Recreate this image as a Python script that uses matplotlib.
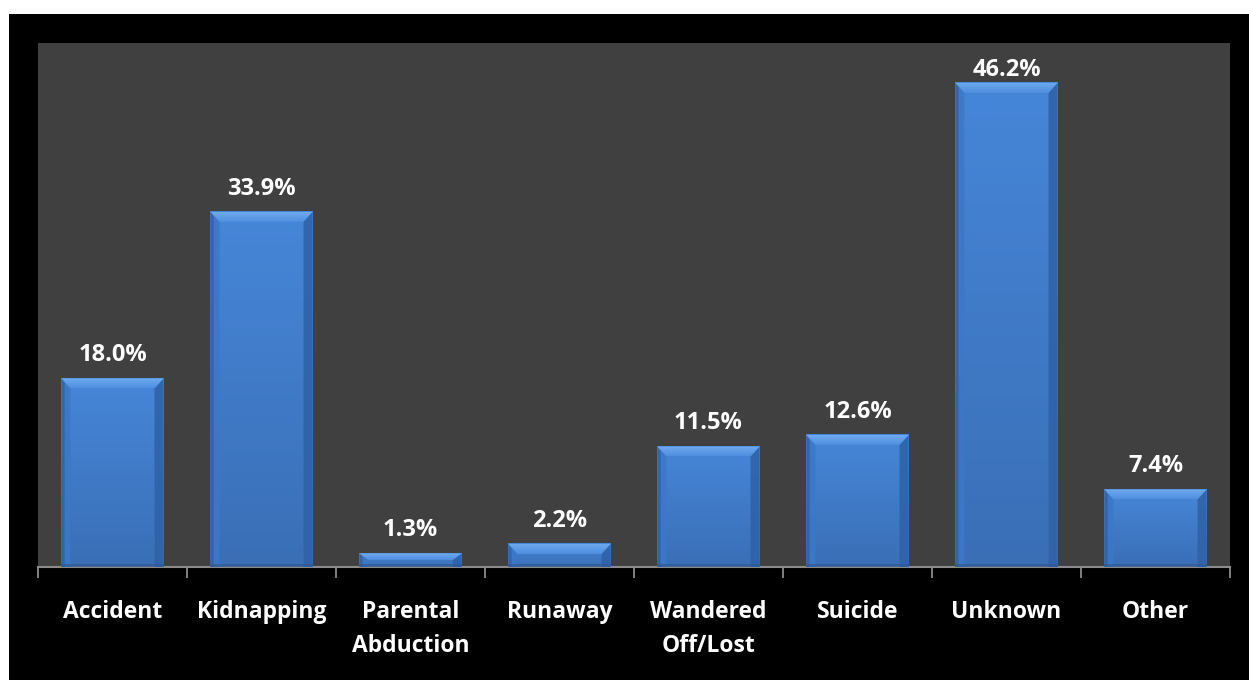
import matplotlib
matplotlib.use("Agg")
import matplotlib.pyplot as plt
from matplotlib.patches import Rectangle, Polygon
from matplotlib.colors import LinearSegmentedColormap
import numpy as np

categories = ["Accident", "Kidnapping", "Parental\nAbduction", "Runaway",
              "Wandered\nOff/Lost", "Suicide", "Unknown", "Other"]
values = [18.0, 33.9, 1.3, 2.2, 11.5, 12.6, 46.2, 7.4]
labels = ["18.0%", "33.9%", "1.3%", "2.2%", "11.5%", "12.6%", "46.2%", "7.4%"]

W, H = 1249, 680
fig = plt.figure(figsize=(W / 100, H / 100), dpi=100)
fig.patch.set_facecolor("white")
fig.patches.append(Rectangle((9 / W, 0), 1 - 9 / W, 1 - 14 / H,
                             transform=fig.transFigure, facecolor="black",
                             edgecolor="none", zorder=-10))

ax = fig.add_axes([38 / W, 1 - 567 / H, (1230 - 38) / W, (567 - 43) / H])
ax.set_facecolor("#404040")
ax.set_xlim(-0.5, len(categories) - 0.5)
ax.set_ylim(0, 50)

font = "Open Sans"
x = np.arange(len(categories))
bw = 0.685
bars = ax.bar(x, values, width=bw, color="#4080d0", edgecolor="none", zorder=2)

# bevel sizes in data units
px_x = (ax.get_xlim()[1] - ax.get_xlim()[0]) / (1230 - 38)
px_y = 50 / (567 - 43)
bx = 9 * px_x
by = 10 * px_y

face_cmap = LinearSegmentedColormap.from_list("face", ["#3a6fb6", "#4686d8"])
top_cmap = LinearSegmentedColormap.from_list("top", ["#4f8fdf", "#6eaaee"])
grad = np.linspace(0, 1, 64).reshape(-1, 1)

for b in bars:
    x0, w, h = b.get_x(), b.get_width(), b.get_height()
    x1 = x0 + w
    dy = min(by, h / 2)
    # vertical gradient on the face
    ax.imshow(grad, cmap=face_cmap, origin="lower", aspect="auto",
              extent=(x0, x1, 0, h), zorder=2.5, interpolation="bilinear")
    # left / right bevel edges
    ax.add_patch(Polygon([(x0, 0), (x0 + bx, 0), (x0 + bx, h - dy), (x0, h)],
                         closed=True, facecolor="#3c78c6", edgecolor="none",
                         zorder=3, alpha=0.9))
    ax.add_patch(Polygon([(x0, 0), (x0 + bx * 0.35, 0), (x0 + bx * 0.35, h - dy * 0.5), (x0, h)],
                         closed=True, facecolor="#2e5d9e", edgecolor="none",
                         zorder=3, alpha=0.7))
    ax.add_patch(Polygon([(x1, 0), (x1 - bx, 0), (x1 - bx, h - dy), (x1, h)],
                         closed=True, facecolor="#2f62a8", edgecolor="none",
                         zorder=3, alpha=0.9))
    # thin darker strip at the base
    ax.add_patch(Rectangle((x0, 0), w, min(3 * px_y, h / 4), facecolor="#2c5a98",
                           edgecolor="none", alpha=0.7, zorder=3))
    # top bevel highlight
    top = Polygon([(x0, h), (x1, h), (x1 - bx, h - dy), (x0 + bx, h - dy)],
                  closed=True, facecolor="none", edgecolor="none")
    ax.add_patch(top)
    im = ax.imshow(grad, cmap=top_cmap, origin="lower", aspect="auto",
                   extent=(x0, x1, h - dy, h), zorder=4, interpolation="bilinear")
    im.set_clip_path(top)

ax.set_xlim(-0.5, len(categories) - 0.5)
ax.set_ylim(0, 50)

for xi, v, lab in zip(x, values, labels):
    yc = min(v + 23 * px_y, 47.4)
    ax.text(xi, yc, lab, ha="center", va="center", color="white",
            fontsize=17, fontweight="bold", family=font, zorder=5)

for s in ["top", "left", "right"]:
    ax.spines[s].set_visible(False)
ax.spines["bottom"].set_color("#8c8c8c")
ax.spines["bottom"].set_linewidth(1.5)
ax.set_yticks([])

ax.set_xticks(np.arange(-0.5, len(categories), 1.0))
ax.set_xticklabels([])
ax.tick_params(axis="x", which="major", length=8, width=1.3, color="#8c8c8c",
               direction="out")
ax.set_xticks(x, minor=True)
ax.set_xticklabels(categories, minor=True, color="white", fontsize=16.5,
                   fontweight="bold", family=font, linespacing=1.55, va="top")
ax.tick_params(axis="x", which="minor", length=0, pad=24)

fig.savefig("out.png", dpi=100, facecolor=fig.get_facecolor())
